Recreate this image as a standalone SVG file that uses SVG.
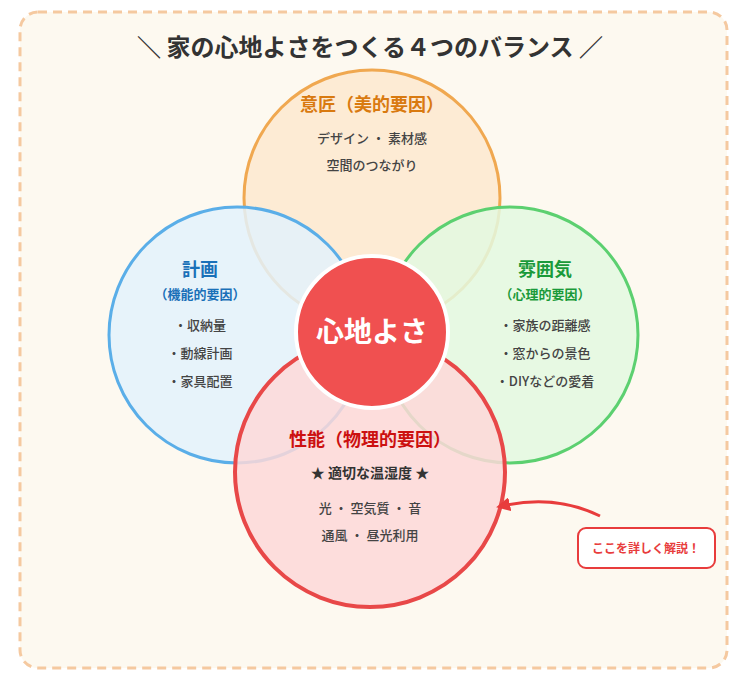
<svg xmlns="http://www.w3.org/2000/svg" width="750" height="676" viewBox="0 0 750 676">
<defs>
<style>
text{font-family:"Noto Sans CJK JP","Noto Sans",sans-serif;text-anchor:middle}
.h{font-size:18px;font-weight:bold}
.s{font-size:13px;fill:#444;font-weight:500}
</style>
<marker id="ah" markerWidth="14" markerHeight="14" refX="8" refY="7" orient="auto" markerUnits="userSpaceOnUse"><path d="M0,0 L14,7 L0,14 Z" fill="#e83c3c"/></marker>
</defs>
<rect x="0" y="0" width="750" height="676" fill="#fff"/>
<rect x="20" y="12" width="707" height="656" rx="18" fill="#fdf9f0" stroke="#f5c9a0" stroke-width="3" stroke-dasharray="9 6"/>
<text x="370" y="56" style="font-size:24px;font-weight:bold;fill:#333">＼ 家の心地よさをつくる４つのバランス ／</text>
<g id="top"><circle cx="372" cy="198" r="128" fill="#fde9cf" fill-opacity="0.85" stroke="#f0a850" stroke-width="3"/></g>
<g id="left"><circle cx="237" cy="335" r="128" fill="#e3f2fc" fill-opacity="0.85" stroke="#5aaee8" stroke-width="3"/></g>
<g id="right"><circle cx="510" cy="335" r="128" fill="#e3f9e0" fill-opacity="0.85" stroke="#5cd070" stroke-width="3"/></g>
<g id="bottom"><circle cx="370" cy="472" r="135" fill="#fdd8d8" fill-opacity="0.85" stroke="#e84848" stroke-width="4"/></g>
<g id="labels">
<text x="372" y="111" class="h" fill="#d97a10">意匠（美的要因）</text>
<text x="372" y="143" class="s">デザイン ・ 素材感</text>
<text x="372" y="170" class="s">空間のつながり</text>
<text x="200" y="276" class="h" fill="#1a70b8">計画</text>
<text x="200" y="299" style="font-size:13px;font-weight:bold;fill:#1a70b8">（機能的要因）</text>
<text x="200" y="330" class="s">・収納量</text>
<text x="200" y="358" class="s">・動線計画</text>
<text x="200" y="386" class="s">・家具配置</text>
<text x="545" y="276" class="h" fill="#1a9a3a">雰囲気</text>
<text x="545" y="299" style="font-size:13px;font-weight:bold;fill:#1a9a3a">（心理的要因）</text>
<text x="545" y="330" class="s">・家族の距離感</text>
<text x="545" y="358" class="s">・窓からの景色</text>
<text x="545" y="386" class="s">・DIYなどの愛着</text>
<text x="370" y="446" class="h" fill="#cc1010">性能（物理的要因）</text>
<text x="370" y="478" style="font-size:14px;font-weight:bold;fill:#333">★ 適切な温湿度 ★</text>
<text x="370" y="513" class="s">光 ・ 空気質 ・ 音</text>
<text x="370" y="540" class="s">通風 ・ 昼光利用</text>
</g>
<g id="center"><circle cx="372" cy="332" r="76" fill="#f05050" stroke="#fff" stroke-width="4"/>
<text x="372" y="342" style="font-size:28px;font-weight:bold;fill:#fff">心地よさ</text></g>
<g id="connectors"><path d="M600,516 Q555,494 502,506" fill="none" stroke="#e83c3c" stroke-width="3" marker-end="url(#ah)"/></g>
<g id="callout"><rect x="578" y="528" width="137" height="40" rx="8" fill="#fff" stroke="#e83c3c" stroke-width="2"/>
<text x="646" y="553" style="font-size:12px;font-weight:bold;fill:#e83c3c">ここを詳しく解説！</text></g>
</svg>
